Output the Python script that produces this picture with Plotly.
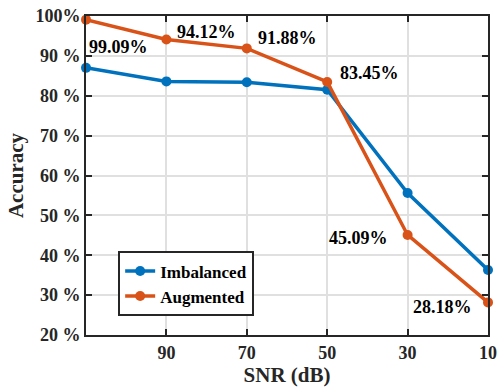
import plotly.graph_objects as go

snr = [110, 90, 70, 50, 30, 10]
imbalanced = [87.0, 83.6, 83.4, 81.5, 55.6, 36.3]
augmented = [99.09, 94.12, 91.88, 83.45, 45.09, 28.18]
x_ticks = [90, 70, 50, 30, 10]
y_ticks = [20, 30, 40, 50, 60, 70, 80, 90, 100]
y_ticktext = ["20 %", "30 %", "40 %", "50 %", "60 %", "70 %", "80 %", "90 %", "100%"]
labels = ["99.09%", "94.12%", "91.88%", "83.45%", "45.09%", "28.18%"]
label_shift = [(32, -27), (40, 7), (41, 10), (42, 9), (-49, -3), (-46, -5)]

FONT = "'Liberation Serif', 'Times New Roman', Times, 'DejaVu Serif', serif"
BLUE = "#0072BD"
ORANGE = "#D95319"

fig = go.Figure()
fig.add_trace(go.Scatter(x=snr, y=imbalanced, mode="lines+markers", name="<b>Imbalanced</b>",
                         line=dict(color=BLUE, width=3.5), marker=dict(size=10, color=BLUE),
                         cliponaxis=False))
fig.add_trace(go.Scatter(x=snr, y=augmented, mode="lines+markers", name="<b>Augmented</b>",
                         line=dict(color=ORANGE, width=3.5), marker=dict(size=10, color=ORANGE),
                         cliponaxis=False))

for xv, yv, t, (dx, dy) in zip(snr, augmented, labels, label_shift):
    fig.add_annotation(x=xv, y=yv, text=f"<b>{t}</b>", showarrow=False,
                       xshift=dx, yshift=dy, font=dict(family=FONT, size=18, color="black"))

axis_common = dict(showline=True, linecolor="#262626", linewidth=2, mirror="allticks",
                   ticks="inside", ticklen=6, tickwidth=1.5, tickcolor="#262626",
                   showgrid=True, gridcolor="#e0e0e0", gridwidth=2, zeroline=False,
                   tickfont=dict(family=FONT, size=18, color="#262626"))

fig.update_xaxes(range=[110, 10], tickmode="array", tickvals=x_ticks,
                 ticktext=[f"<b>{v}</b>" for v in x_ticks],
                 title=dict(text="<b>SNR (dB)</b>", font=dict(family=FONT, size=21, color="#262626"),
                            standoff=5),
                 **axis_common)
fig.update_yaxes(range=[20, 100], tickmode="array", tickvals=y_ticks,
                 ticktext=[f"<b>{t}</b>" for t in y_ticktext],
                 title=dict(text="<b>Accuracy</b>", font=dict(family=FONT, size=21, color="#262626"),
                            standoff=6),
                 **axis_common)

fig.update_layout(
    width=498, height=388,
    margin=dict(l=86, r=10, t=16, b=53, autoexpand=False),
    paper_bgcolor="white", plot_bgcolor="white",
    showlegend=True,
    legend=dict(x=0.08, y=0.262, xanchor="left", yanchor="top",
                bgcolor="white", bordercolor="#262626", borderwidth=2,
                font=dict(family=FONT, size=17, color="black"),
                itemwidth=30, tracegroupgap=0, traceorder="normal"),
    font=dict(family=FONT),
)

fig.write_html("out.html", config={"displayModeBar": False},
               post_script="document.body.style.margin='0';document.body.style.overflow='hidden';")
